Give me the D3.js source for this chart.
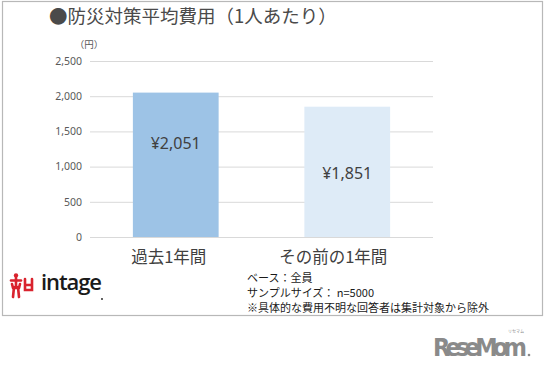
<!DOCTYPE html>
<html>
<head>
<meta charset="utf-8">
<script src="https://cdn.jsdelivr.net/npm/d3@7"></script>
<style>
  html, body { margin: 0; padding: 0; background: #fff; }
  svg { display: block; }
</style>
</head>
<body>
<svg id="chart" width="545" height="369"></svg>
<script>
// Average disaster-prevention spend per person, two periods
const categories = ["過去1年間", "その前の1年間"];
const values = [2051, 1851];
const valueLabels = ["¥2,051", "¥1,851"];
const yTicks = [0, 500, 1000, 1500, 2000, 2500];
const yTickLabels = ["0", "500", "1,000", "1,500", "2,000", "2,500"];
const barColors = ["#9dc3e6", "#deebf7"];
const titleText = "●防災対策平均費用（1人あたり）";
const unitText = "（円）";
const notes = ["ベース：全員", "サンプルサイズ： n=5000", "※具体的な費用不明な回答者は集計対象から除外"];

const JP = "'Noto Sans CJK JP', 'Noto Sans', sans-serif";
const svg = d3.select("#chart");

// outer frame
svg.append("rect")
  .attr("x", 2.5).attr("y", 1.5).attr("width", 540).attr("height", 314)
  .attr("fill", "#fff").attr("stroke", "#b8b8b8").attr("stroke-width", 1.2);

// title
svg.append("text")
  .attr("x", 49).attr("y", 23)
  .attr("font-family", JP).attr("font-size", 18.5)
  .attr("fill", "#4a4a4a")
  .text(titleText);

// scales
const plotLeft = 90, plotRight = 433, plotTop = 61, plotBottom = 237;
const y = d3.scaleLinear().domain([0, 2500]).range([plotBottom, plotTop]);
const x = d3.scaleBand().domain(categories).range([plotLeft, plotRight])
  .paddingInner(0.5).paddingOuter(0.25);

// gridlines + tick labels
const yAxis = d3.axisLeft(y)
  .tickValues(yTicks)
  .tickSize(-(plotRight - plotLeft))
  .tickPadding(8)
  .tickFormat((d, i) => yTickLabels[i]);

const gy = svg.append("g")
  .attr("transform", `translate(${plotLeft},0)`)
  .call(yAxis);
gy.select(".domain").remove();
gy.selectAll(".tick line").attr("stroke", "#d9d9d9").attr("stroke-width", 1);
gy.selectAll(".tick text")
  .attr("font-family", "'Noto Sans', sans-serif")
  .attr("font-size", 10.5)
  .attr("fill", "#595959");

// unit label
svg.append("text")
  .attr("x", 89).attr("y", 48)
  .attr("text-anchor", "middle")
  .attr("font-family", JP).attr("font-size", 9.5)
  .attr("fill", "#595959")
  .text(unitText);

// bars
svg.append("g").selectAll("rect")
  .data(values)
  .join("rect")
  .attr("x", (d, i) => x(categories[i]))
  .attr("y", d => y(d))
  .attr("width", x.bandwidth())
  .attr("height", d => y(0) - y(d))
  .attr("fill", (d, i) => barColors[i]);

// value labels inside bars (relative height within each bar)
const labelFrac = [0.65, 0.49];
svg.append("g").selectAll("text")
  .data(values)
  .join("text")
  .attr("x", (d, i) => x(categories[i]) + x.bandwidth() / 2)
  .attr("y", (d, i) => y(d * labelFrac[i]))
  .attr("dy", "0.35em")
  .attr("text-anchor", "middle")
  .attr("font-family", "'Noto Sans', sans-serif")
  .attr("font-size", 16)
  .attr("fill", "#404040")
  .text((d, i) => valueLabels[i]);

// category labels
const catShift = [-7, -14];
svg.append("g").selectAll("text")
  .data(categories)
  .join("text")
  .attr("x", (d, i) => x(d) + x.bandwidth() / 2 + catShift[i])
  .attr("y", 257)
  .attr("dy", "0.35em")
  .attr("text-anchor", "middle")
  .attr("font-family", JP).attr("font-size", 16.5)
  .attr("fill", "#404040")
  .text(d => d);

// footnotes
svg.append("g").selectAll("text")
  .data(notes)
  .join("text")
  .attr("x", 247)
  .attr("y", (d, i) => 278 + i * 15)
  .attr("dy", "0.35em")
  .attr("font-family", JP).attr("font-size", 11)
  .attr("fill", "#1a1a1a")
  .text(d => d);

// intage logo mark
const logo = svg.append("g").attr("transform", "translate(10,273)")
  .attr("stroke", "#d9232e").attr("fill", "none").attr("stroke-width", 2.6)
  .attr("stroke-linecap", "round");
logo.append("circle").attr("cx", 6).attr("cy", 2.5).attr("r", 2.2).attr("fill", "#d9232e").attr("stroke", "none");
logo.append("path").attr("d", "M1,7.5 L11,7.5");
logo.append("path").attr("d", "M6,5 L6,14 M4,14 L3,24 M8,14 L9,24");
logo.append("path").attr("d", "M2,11 L3,15 M10,11 L9,15 M3,15 L9,15");
logo.append("path").attr("d", "M15,6 L15,17 L22,17 L22,6 M15,12 L22,12");

svg.append("text")
  .attr("x", 41).attr("y", 290)
  .attr("font-family", "'Open Sans', 'DejaVu Sans', sans-serif")
  .attr("font-size", 22).attr("font-weight", 600)
  .attr("fill", "#1a1a1a")
  .attr("textLength", 61)
  .text("intage");
svg.append("circle").attr("cx", 102).attr("cy", 299).attr("r", 0.9).attr("fill", "#1a1a1a");

// publisher mark, bottom right
svg.append("text")
  .attr("x", 433).attr("y", 356)
  .attr("font-family", "'DejaVu Sans Condensed', 'DejaVu Sans', sans-serif")
  .attr("font-size", 25).attr("font-weight", 700)
  .attr("fill", "#8a8a8a")
  .attr("textLength", 94)
  .text("ReseMom");
svg.append("text")
  .attr("x", 516).attr("y", 333)
  .attr("text-anchor", "middle")
  .attr("font-family", JP).attr("font-size", 4)
  .attr("fill", "#8a8a8a")
  .text("リセマム");
svg.append("circle").attr("cx", 529).attr("cy", 355).attr("r", 1.3).attr("fill", "#8a8a8a");
</script>
</body>
</html>
